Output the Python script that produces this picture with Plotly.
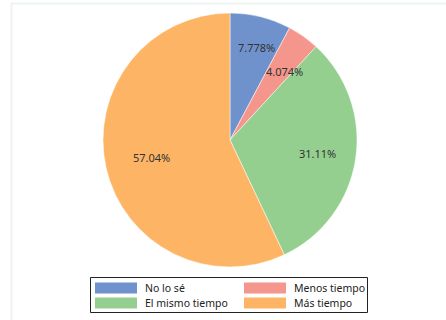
import math
import plotly.graph_objects as go

# Survey answers and their counts
categories = ["No lo sé", "Menos tiempo", "El mismo tiempo", "Más tiempo"]
counts = [21, 11, 84, 154]
colors = ["#7092cc", "#f4968b", "#94cf8f", "#fdb565"]
# how far out (as a share of the radius) each percentage label sits
label_radius = [0.76, 0.69, 0.70, 0.63]
label_turn = [2, 3, 0, 0]  # extra clockwise shift of a label, degrees

W, H = 446, 320
CX, CY, R = 230, 140, 127
total = sum(counts)
labels_txt = [f"{c / total * 100:.4g}%" for c in counts]

fig = go.Figure(
    go.Pie(
        labels=categories,
        values=counts,
        textinfo="none",
        marker=dict(colors=colors, line=dict(color="white", width=0.5)),
        sort=False,
        direction="clockwise",
        rotation=0,
        showlegend=False,
        hoverinfo="label+percent",
        domain=dict(x=[(CX - R) / W, (CX + R) / W], y=[(H - CY - R) / H, (H - CY + R) / H]),
    )
)

def px(x):
    return x / W

def py(y):
    return 1 - y / H

annotations = []
cum = 0
for c, txt, rf, turn in zip(counts, labels_txt, label_radius, label_turn):
    mid = (cum + c / 2) / total * 360 + turn
    cum += c
    ang = math.radians(mid)
    x = CX + rf * R * math.sin(ang)
    y = CY - rf * R * math.cos(ang)
    annotations.append(dict(xref="paper", yref="paper", x=px(x), y=py(y), text=txt,
                            showarrow=False, xanchor="center", yanchor="middle",
                            font=dict(family="Noto Sans", size=11, color="#333333")))

shapes = [
    # faint frame lines along top and left
    dict(type="line", xref="paper", yref="paper", x0=px(11), x1=px(446), y0=py(3.5), y1=py(3.5),
         line=dict(color="#eef4f4", width=2)),
    dict(type="line", xref="paper", yref="paper", x0=px(11.5), x1=px(11.5), y0=py(3), y1=py(320),
         line=dict(color="#eef4f4", width=2)),
    # legend box
    dict(type="rect", xref="paper", yref="paper", x0=px(90.5), x1=px(367.5), y0=py(277.5), y1=py(312.5),
         line=dict(color="#222222", width=1), fillcolor="white"),
]
cols_x = [95, 244]
rows_y = [288, 303]
for i, (name, col) in enumerate(zip(categories, colors)):
    cx = cols_x[i % 2]
    cy = rows_y[i // 2]
    shapes.append(dict(type="rect", xref="paper", yref="paper",
                       x0=px(cx), x1=px(cx + 42), y0=py(cy + 5.5), y1=py(cy - 5.5),
                       line=dict(width=0), fillcolor=col))
    annotations.append(dict(xref="paper", yref="paper", x=px(cx + 48), y=py(cy),
                            text=name, showarrow=False, xanchor="left", yanchor="middle",
                            font=dict(family="Noto Sans", size=10.5, color="#222222")))

fig.update_layout(
    width=W, height=H,
    margin=dict(l=0, r=0, t=0, b=0),
    paper_bgcolor="white",
    plot_bgcolor="white",
    shapes=shapes,
    annotations=annotations,
)

fig.write_html("out.html")
